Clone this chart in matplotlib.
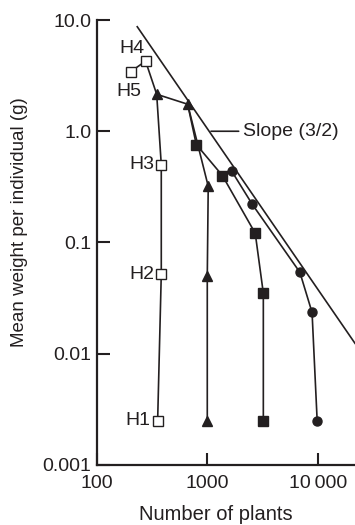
import numpy as np
import matplotlib.pyplot as plt

plt.rcParams['font.family'] = ['Liberation Sans', 'DejaVu Sans']
ink = '#231f20'

# Open squares: harvests H1..H5 (lowest density), with the bend point it shares with the triangles
sq_open_x = [355, 383, 383, 348, 276, 202]
sq_open_y = [0.0025, 0.052, 0.50, 2.15, 4.27, 3.43]
h_labels = ['H1', 'H2', 'H3', None, 'H4', 'H5']

# Filled triangles
tri_x = [1000, 1000, 1020, 664, 348]
tri_y = [0.0025, 0.050, 0.32, 1.75, 2.15]

# Filled squares
sq_x = [3220, 3220, 2720, 1370, 795, 664]
sq_y = [0.0025, 0.035, 0.121, 0.40, 0.76, 1.75]

# Filled circles
ci_x = [9900, 8900, 6900, 2560, 1660, 1370]
ci_y = [0.0025, 0.0235, 0.054, 0.22, 0.44, 0.40]

# Thinning line
slope_x = [232, 21800]
slope_y = [8.7, 0.0124]

fig = plt.figure(figsize=(3.55, 5.25), dpi=100)
ax = fig.add_axes([0.273, 0.1143, 0.727, 0.8476])
ax.set_xscale('log')
ax.set_yscale('log')
ax.set_xlim(100, 21800)
ax.set_ylim(0.001, 10)

lw = 1.2
ax.plot(slope_x, slope_y, color=ink, lw=lw)
ax.plot(sq_open_x, sq_open_y, color=ink, lw=lw)
ax.plot(tri_x, tri_y, color=ink, lw=lw, marker='^', ms=7, mfc=ink, mec=ink)
ax.plot(sq_x, sq_y, color=ink, lw=lw)
ax.plot(sq_x[:-1], sq_y[:-1], ls='none', marker='s', ms=6.5, mfc=ink, mec=ink)
ax.plot(ci_x, ci_y, color=ink, lw=lw)
ax.plot(ci_x[:-1], ci_y[:-1], ls='none', marker='o', ms=6.5, mfc=ink, mec=ink)

ox = [x for x, l in zip(sq_open_x, h_labels) if l]
oy = [y for y, l in zip(sq_open_y, h_labels) if l]
ax.plot(ox, oy, ls='none', marker='s', ms=6.5, mfc='white', mec=ink, mew=1.0, zorder=5)

fs = 14
offsets = {'H1': (-5, 0, 'right', 'center'), 'H2': (-5, 0, 'right', 'center'),
           'H3': (-5, 0, 'right', 'center'), 'H4': (-1, 9, 'right', 'center'),
           'H5': (8, -8, 'right', 'top')}
for x, y, l in zip(sq_open_x, sq_open_y, h_labels):
    if l:
        dx, dy, ha, va = offsets[l]
        ax.annotate(l, (x, y), xytext=(dx, dy), textcoords='offset points',
                    ha=ha, va=va, fontsize=fs, color=ink)

ax.annotate('Slope (3/2)', xy=(1080, 1.0), xytext=(2100, 1.0),
            fontsize=fs, color=ink, va='center', ha='left',
            arrowprops=dict(arrowstyle='-', color=ink, lw=lw, shrinkA=1, shrinkB=0))

ax.set_xticks([100, 1000, 10000])
ax.set_xticklabels(['100', '1000', '10\u2009000'])
ax.set_yticks([0.001, 0.01, 0.1, 1, 10])
ax.set_yticklabels(['0.001', '0.01', '0.1', '1.0', '10.0'])
ax.minorticks_off()
ax.tick_params(direction='in', length=9, width=1.5, color=ink, labelcolor=ink,
               labelsize=fs, pad=4)
ax.tick_params(axis='x', pad=7)

for s in ['top', 'right']:
    ax.spines[s].set_visible(False)
for s in ['left', 'bottom']:
    ax.spines[s].set_linewidth(1.6)
    ax.spines[s].set_color(ink)

fig.text(216 / 355, 1 - 515 / 525, 'Number of plants', fontsize=14.5, color=ink,
         ha='center', va='center')
fig.text(20 / 355, 1 - 222 / 525, 'Mean weight per individual (g)', fontsize=13.5,
         color=ink, ha='center', va='center', rotation=90)

fig.savefig('out.png', dpi=100)
